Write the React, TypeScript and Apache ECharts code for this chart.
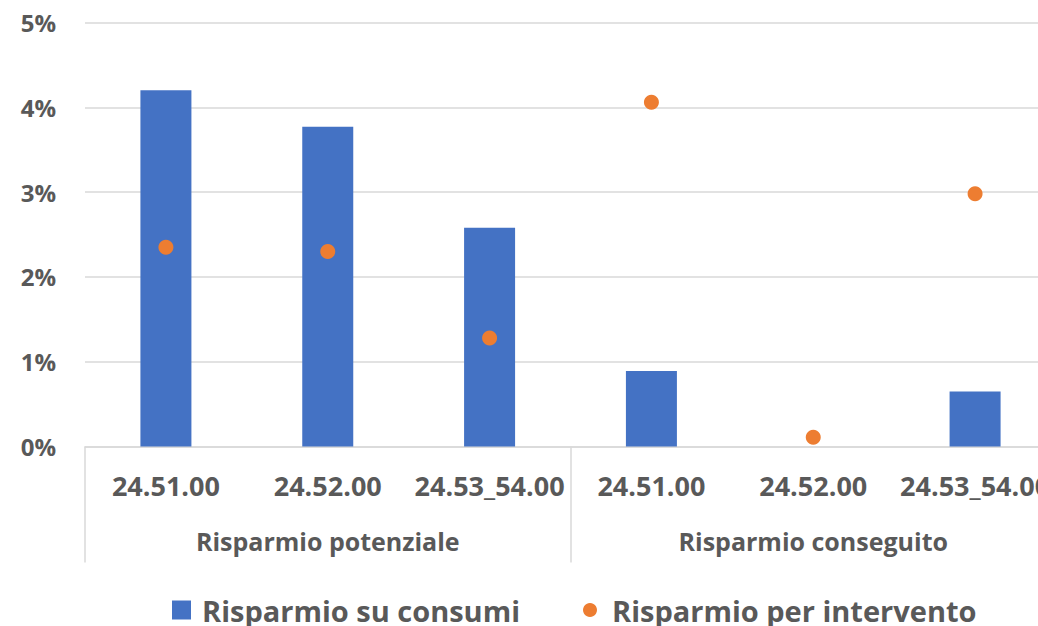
import React, { useEffect, useRef } from "react";
import * as echarts from "echarts";

const categories = ["24.51.00", "24.52.00", "24.53_54.00", "24.51.00", "24.52.00", "24.53_54.00"];
const groups = ["Risparmio potenziale", "Risparmio conseguito"];
const consumiValues = [4.2, 3.77, 2.58, 0.89, 0, 0.65];
const interventoValues = [2.35, 2.3, 1.28, 4.06, 0.11, 2.98];
const seriesNames = ["Risparmio su consumi", "Risparmio per intervento"];

const FONT = "'Open Sans', 'Noto Sans', sans-serif";
const TEXT = "#595959";
const LINE = "#d9d9d9";

export default function App() {
  const ref = useRef<HTMLDivElement>(null);
  useEffect(() => {
    if (!ref.current) return;
    const chart = echarts.init(ref.current, null, { renderer: "svg" });
    chart.setOption({
      animation: false,
      textStyle: { fontFamily: FONT },
      grid: { left: 85, right: 1, top: 22.5, bottom: 179.5, containLabel: false },
      legend: [
        {
          data: [{ name: seriesNames[0], icon: "rect" }],
          left: 172,
          top: 595,
          itemWidth: 19,
          itemHeight: 19,
          textStyle: { color: TEXT, fontSize: 29, lineHeight: 30, fontWeight: "bold", fontFamily: FONT, padding: [0, 0, 0, 6] },
          padding: 0,
        },
        {
          data: [{ name: seriesNames[1], icon: "circle" }],
          left: 583,
          top: 595,
          itemWidth: 14,
          itemHeight: 14,
          textStyle: { color: TEXT, fontSize: 29, lineHeight: 30, fontWeight: "bold", fontFamily: FONT, padding: [0, 0, 0, 10] },
          padding: 0,
        },
      ],
      xAxis: [
        {
          type: "category",
          data: categories,
          position: "bottom",
          axisLine: { show: true, lineStyle: { color: LINE, width: 1.5 } },
          axisTick: { show: false },
          axisLabel: {
            interval: 0,
            color: TEXT,
            fontSize: 27,
            fontWeight: "bold",
            fontFamily: FONT,
            margin: 25,
          },
          splitLine: { show: false },
        },
        {
          type: "category",
          data: groups,
          position: "bottom",
          axisLine: { show: false },
          axisTick: { show: true, length: 116, interval: 0, lineStyle: { color: LINE, width: 1.5 } },
          axisLabel: {
            interval: 0,
            color: TEXT,
            fontSize: 25,
            fontWeight: "bold",
            fontFamily: FONT,
            margin: 82,
          },
          splitLine: { show: false },
        },
      ],
      yAxis: {
        type: "value",
        min: 0,
        max: 5,
        interval: 1,
        axisLine: { show: false },
        axisTick: { show: false },
        axisLabel: {
          formatter: "{value}%",
          color: TEXT,
          fontSize: 24,
          fontWeight: "bold",
          fontFamily: FONT,
          margin: 29,
        },
        splitLine: { lineStyle: { color: LINE, width: 1.5 } },
      },
      series: [
        {
          name: seriesNames[0],
          type: "bar",
          xAxisIndex: 0,
          data: consumiValues,
          barWidth: 51,
          itemStyle: { color: "#4472C4" },
        },
        {
          name: seriesNames[1],
          type: "scatter",
          xAxisIndex: 0,
          data: interventoValues,
          symbol: "circle",
          symbolSize: 15,
          itemStyle: { color: "#ED7D31", opacity: 1 },
          z: 5,
        },
      ],
    });
    return () => chart.dispose();
  }, []);
  return (
    <div style={{ position: "fixed", left: 0, top: 0, width: 1038, height: 626, overflow: "hidden", background: "#fff" }}>
      <div ref={ref} style={{ width: 1057, height: 626 }} />
    </div>
  );
}
